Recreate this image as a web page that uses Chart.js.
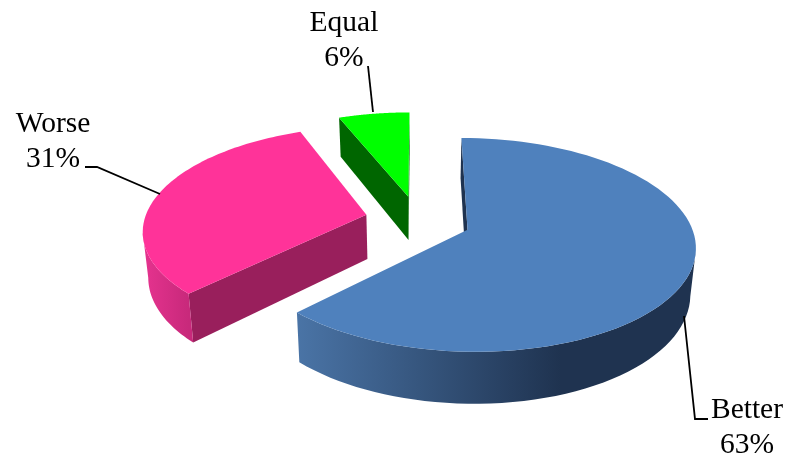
<!DOCTYPE html>
<html><head><meta charset="utf-8">
<style>html,body{margin:0;padding:0;background:#fff}#w{width:789px;height:460px;position:relative}</style>
<script src="https://cdn.jsdelivr.net/npm/chart.js@4"></script>
</head><body><div id="w"><canvas id="c" width="789" height="460"></canvas></div>
<script>
const categories = ['Better', 'Worse', 'Equal'];
const shares = [63, 31, 6];
const topColors = ['#4F81BD', '#FF3399', '#00FF00'];
const cutColors = ['#1F3350', '#991F5C', '#006600'];
const wallStops = [
  [[0, '#4A74A6'], [0.66, '#1F3350'], [1, '#1F3350']],
  [[0, '#E6338F'], [1, '#C8297B']],
  [[0, '#006600'], [1, '#006600']]
];
const labelBoxes = [
  {x: 747, y: [418, 453], line: [[708, 419], [695, 419], [684, 316]]},
  {x: 53, y: [132, 167], line: [[85, 167], [97, 167], [160, 194]]},
  {x: 344, y: [31, 66], line: [[368, 66], [373, 112]]}
];
// Projection of the pie plane on the page (unit = pie radius)
const P = {x0: 418, y0: 220, b: 222, a: 102, p: 0.139};
function project(u, v) {
  const w = 1 - P.p * v;
  return [P.x0 + P.b * u / w, P.y0 + P.a * v / w];
}
// Small correction of the viewing angle in the lower-left quadrant
function warp(a) {
  const c = Math.cos(a), s = Math.sin(a);
  if (c < 0 && s > 0) {
    const t = Math.sin(2 * a);
    return a - (2 * Math.PI / 180) * t * t;
  }
  return a;
}
function drop(pt) {
  return [P.x0 + 0.98 * (pt[0] - P.x0), pt[1] + 39 + 0.0556 * (pt[1] - 118)];
}
function poly(ctx, pts, fill) {
  ctx.beginPath();
  pts.forEach((p, i) => i ? ctx.lineTo(p[0], p[1]) : ctx.moveTo(p[0], p[1]));
  ctx.closePath();
  ctx.fillStyle = fill;
  ctx.fill();
}
function cross(a, b, c) {
  return (b[0] - a[0]) * (c[1] - b[1]) - (b[1] - a[1]) * (c[0] - b[0]);
}
const pie3d = {
  id: 'pie3d',
  beforeDatasetDraw(chart, args) {
    const ctx = chart.ctx;
    const arcs = chart.getDatasetMeta(args.index).data;
    for (let i = arcs.length - 1; i >= 0; i--) {
      const el = arcs[i];
      const R = el.outerRadius, d = el.options.offset / R;
      const mid = (el.startAngle + el.endAngle) / 2;
      const cu = d * Math.cos(mid), cv = d * Math.sin(mid);
      const n = 90, rim = [];
      for (let k = 0; k <= n; k++) {
        const a = warp(el.startAngle + (el.endAngle - el.startAngle) * k / n);
        rim.push(project(cu + Math.cos(a), cv + Math.sin(a)));
      }
      const apex = project(cu, cv), apexB = drop(apex);
      const s = rim[0], e = rim[n];
      if (cross(apex, s, drop(s)) < 0) poly(ctx, [apex, s, drop(s), apexB], cutColors[i]);
      if (cross(apex, e, drop(e)) > 0) poly(ctx, [apex, e, drop(e), apexB], cutColors[i]);
      const front = [];
      for (let k = 0; k < n; k++) {
        if (rim[k + 1][0] < rim[k][0]) {
          if (!front.length) front.push(rim[k]);
          front.push(rim[k + 1]);
        }
      }
      if (front.length > 1) {
        const xs = front.map(p => p[0]);
        const g = ctx.createLinearGradient(Math.min(...xs), 0, Math.max(...xs), 0);
        wallStops[i].forEach(st => g.addColorStop(st[0], st[1]));
        poly(ctx, front.concat(front.map(drop).reverse()), g);
      }
      poly(ctx, [apex].concat(rim), el.options.backgroundColor);
    }
    return false;
  },
  afterDraw(chart) {
    const ctx = chart.ctx;
    ctx.save();
    ctx.font = '29.5px "Liberation Serif"';
    ctx.textAlign = 'center';
    ctx.textBaseline = 'alphabetic';
    ctx.fillStyle = '#000';
    ctx.strokeStyle = '#000';
    ctx.lineWidth = 1.8;
    categories.forEach((name, i) => {
      const b = labelBoxes[i];
      ctx.fillText(name, b.x, b.y[0]);
      ctx.fillText(shares[i] + '%', b.x, b.y[1]);
      ctx.beginPath();
      b.line.forEach((p, k) => k ? ctx.lineTo(p[0], p[1]) : ctx.moveTo(p[0], p[1]));
      ctx.stroke();
    });
    ctx.restore();
  }
};
new Chart(document.getElementById('c'), {
  type: 'pie',
  data: {
    labels: categories,
    datasets: [{data: shares, backgroundColor: topColors, borderWidth: 0, offset: 36, hoverOffset: 0}]
  },
  options: {
    responsive: false,
    animation: false,
    radius: 150,
    events: [],
    plugins: {legend: {display: false}, tooltip: {enabled: false}}
  },
  plugins: [pie3d]
});
</script></body></html>
